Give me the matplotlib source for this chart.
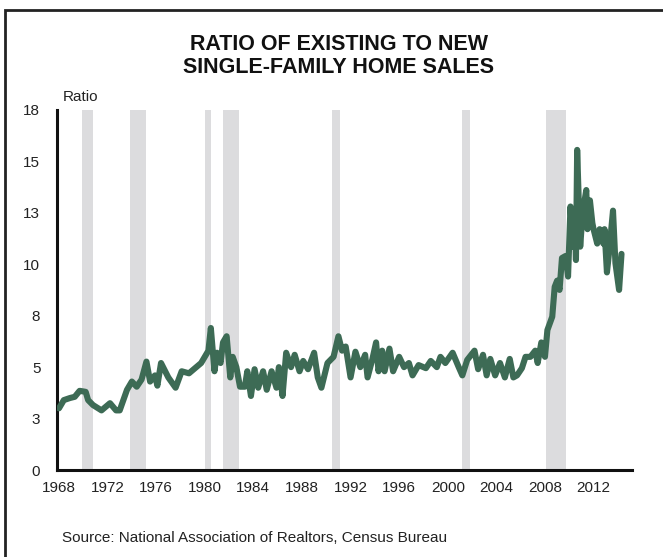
import matplotlib
matplotlib.use("Agg")
import matplotlib.pyplot as plt
from matplotlib.patches import Rectangle

plt.rcParams['font.family'] = ['Liberation Sans', 'DejaVu Sans']

# ratio of existing to new single-family home sales
years = [1968.0, 1968.4, 1968.9, 1969.3, 1969.7, 1970.2, 1970.4, 1970.8, 1971.5, 1972.2,
         1972.7, 1973.0, 1973.6, 1974.0, 1974.4, 1974.8, 1975.2, 1975.5, 1975.9, 1976.1,
         1976.4, 1977.0, 1977.6, 1978.1, 1978.7, 1979.2, 1979.7, 1980.3, 1980.5, 1980.8,
         1981.0, 1981.3, 1981.5, 1981.8, 1982.1, 1982.3, 1982.6, 1982.9, 1983.3, 1983.5,
         1983.8, 1984.1, 1984.4, 1984.8, 1985.1, 1985.5, 1985.9, 1986.1, 1986.4, 1986.7,
         1987.1, 1987.4, 1987.8, 1988.1, 1988.5, 1989.0, 1989.3, 1989.6, 1990.1, 1990.6,
         1991.0, 1991.3, 1991.6, 1992.0, 1992.4, 1992.8, 1993.2, 1993.4, 1993.8, 1994.1,
         1994.3, 1994.6, 1994.8, 1995.2, 1995.5, 1996.0, 1996.4, 1996.8, 1997.1, 1997.6,
         1998.2, 1998.6, 1999.1, 1999.4, 1999.8, 2000.4, 2000.9, 2001.2, 2001.6, 2002.2,
         2002.5, 2002.9, 2003.2, 2003.5, 2003.9, 2004.3, 2004.7, 2005.1, 2005.4, 2005.7,
         2006.1, 2006.4, 2006.8, 2007.2, 2007.4, 2007.7, 2008.0, 2008.2, 2008.6, 2008.8,
         2009.0, 2009.2, 2009.4, 2009.7, 2009.9, 2010.1, 2010.3, 2010.45, 2010.55, 2010.65,
         2010.9, 2011.1, 2011.4, 2011.5, 2011.7, 2011.9, 2012.0, 2012.3, 2012.5, 2012.8,
         2012.9, 2013.1, 2013.3, 2013.6, 2013.8, 2014.1, 2014.3]
ratio = [3.0, 3.4, 3.5, 3.56, 3.85, 3.8, 3.4, 3.16, 2.9, 3.25,
         2.9, 2.9, 3.9, 4.3, 4.05, 4.4, 5.27, 4.3, 4.6, 4.1,
         5.2, 4.5, 4.0, 4.8, 4.7, 4.95, 5.2, 5.8, 6.9, 4.8,
         5.7, 5.2, 6.2, 6.5, 4.5, 5.5, 5.0, 4.05, 4.05, 4.8,
         3.6, 4.9, 4.0, 4.8, 3.9, 4.8, 4.0, 5.0, 3.6, 5.7,
         5.0, 5.6, 4.8, 5.3, 4.9, 5.7, 4.5, 4.0, 5.2, 5.5,
         6.5, 5.8, 6.0, 4.5, 5.75, 5.0, 5.6, 4.5, 5.4, 6.2,
         4.8, 5.8, 4.8, 5.9, 4.8, 5.5, 5.0, 5.2, 4.6, 5.1,
         4.95, 5.3, 5.0, 5.5, 5.2, 5.7, 5.0, 4.6, 5.35, 5.8,
         4.9, 5.6, 4.6, 5.4, 4.6, 5.2, 4.5, 5.4, 4.5, 4.6,
         4.95, 5.5, 5.5, 5.8, 5.2, 6.2, 5.5, 6.8, 7.45, 8.9,
         9.2, 8.75, 10.3, 10.4, 9.4, 12.8, 10.85, 12.3, 10.2, 15.55,
         10.85, 12.5, 13.6, 11.7, 13.1, 12.0, 11.7, 11.0, 11.7, 11.0,
         11.7, 9.6, 10.7, 12.6, 10.05, 8.75, 10.5]

# recessions (start, end)
rec_start = [1969.92, 1973.83, 1980.0, 1981.5, 1990.5, 2001.2, 2008.1]
rec_end = [1970.83, 1975.17, 1980.5, 1982.83, 1991.17, 2001.83, 2009.7]

ytick_vals = [0, 2.5, 5, 7.5, 10, 12.5, 15, 17.5]
ytick_labels = ['0', '3', '5', '8', '10', '13', '15', '18']
xtick_vals = list(range(1968, 2013, 4))

fig = plt.figure(figsize=(6.63, 5.57), dpi=100)
ax = fig.add_axes([0.086, 0.156, 0.867, 0.647])

for s, e in zip(rec_start, rec_end):
    ax.axvspan(s, e, color='#dcdcde', lw=0, zorder=1)

ax.plot(years, ratio, color='#3d6b55', lw=4.4, solid_joinstyle='round',
        solid_capstyle='round', zorder=3)

ax.set_xlim(1967.84, 2015.15)
ax.set_ylim(0, 17.5)
ax.set_yticks(ytick_vals)
ax.set_yticklabels(ytick_labels)
ax.set_xticks(xtick_vals)
ax.set_xticklabels([str(y) for y in xtick_vals])
ax.tick_params(length=0, labelsize=11, colors='#222222')
ax.tick_params(axis='y', pad=12)
ax.tick_params(axis='x', pad=8)
for side in ['top', 'right']:
    ax.spines[side].set_visible(False)
for side in ['left', 'bottom']:
    ax.spines[side].set_linewidth(2.2)
    ax.spines[side].set_color('#111111')

fig.text(0.511, 0.899, 'RATIO OF EXISTING TO NEW\nSINGLE-FAMILY HOME SALES',
         ha='center', va='center', fontsize=15.5, fontweight='bold',
         linespacing=1.12, color='#111111')
fig.text(0.095, 0.826, 'Ratio', ha='left', va='center', fontsize=11, color='#222222')
fig.text(0.094, 0.034, 'Source: National Association of Realtors, Census Bureau',
         ha='left', va='center', fontsize=11, color='#222222')

# frame round the whole picture
fig.patches.append(Rectangle((5 / 663, -0.1), 1.2, 1.1 - 10 / 557,
                             transform=fig.transFigure, fill=False,
                             lw=2, ec='#222222'))

fig.savefig('out.png', dpi=100)
